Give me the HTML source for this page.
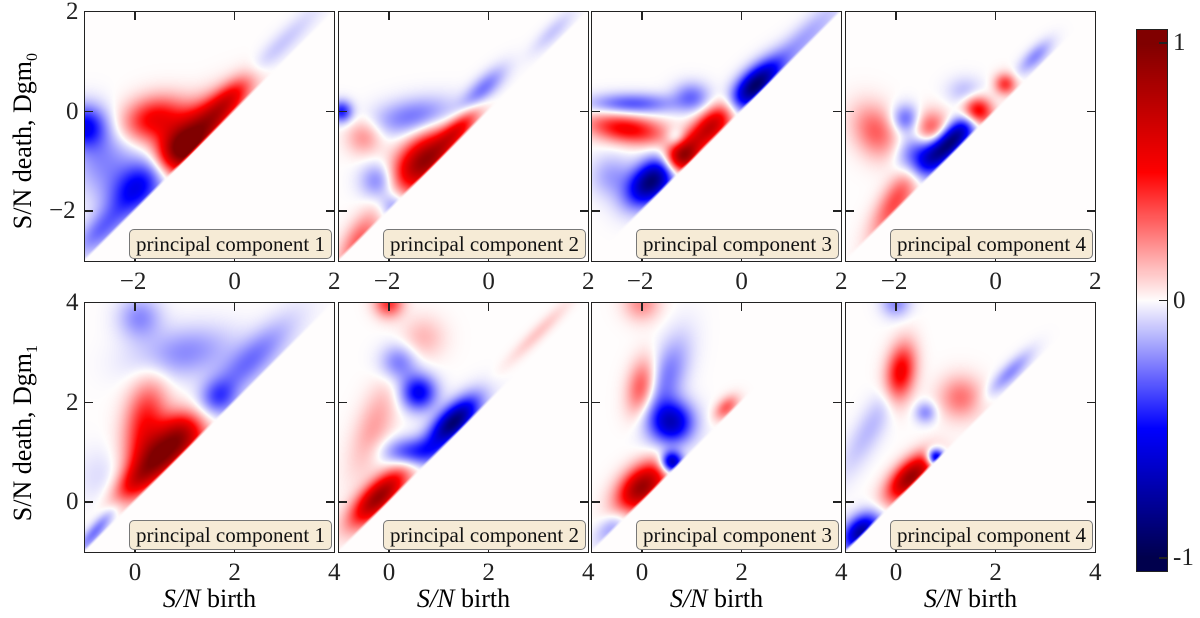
<!DOCTYPE html>
<html><head><meta charset="utf-8">
<style>
body{margin:0;background:#fff;width:1200px;height:618px;overflow:hidden;position:relative;font-family:"Liberation Serif",serif;}
canvas{position:absolute;}
.frame{position:absolute;border:1.5px solid #222;box-sizing:border-box;}
.tick{position:absolute;background:#222;}
.tl{position:absolute;font-size:25px;color:#222;line-height:25px;}
.leg{position:absolute;background:#f6ebd6;border:1.5px solid #777;border-radius:5px;box-sizing:border-box;font-size:21px;line-height:28px;text-align:center;color:#111;white-space:nowrap;}
.ylab{position:absolute;font-size:26px;transform:rotate(-90deg);transform-origin:center;white-space:nowrap;text-align:center;width:260px;line-height:30px;}
.xlab{position:absolute;font-size:26px;width:249px;text-align:center;}
</style></head><body>
<div id="root"></div>
<script>
// Blob data per panel: [birth, death, amplitude, sigma1, sigma2, angleDeg]
const pcTop1=[[-0.8,-0.5,1.0,0.6,0.3,45],[-1.6,-0.15,0.6,0.45,0.3,15],[-0.1,0.25,0.55,0.45,0.18,45],[-1.1,-0.8,0.5,0.3,0.3,45],
 [-3.0,-0.3,-0.55,0.3,0.3,0],[-1.9,-1.5,-0.6,0.5,0.3,45],[-2.6,-1.0,-0.25,0.45,0.5,0],[-2.7,-2.4,-0.3,0.45,0.2,45],[0.9,1.3,-0.12,0.8,0.15,45]];
const pcTop2=[[-1.3,-1.0,1.0,0.5,0.3,45],[-0.6,-0.35,0.55,0.4,0.15,45],[-2.5,-0.5,0.25,0.25,0.25,0],[-2.6,-2.6,0.35,0.45,0.2,60],
 [-1.5,-0.1,-0.3,0.6,0.25,10],[-2.95,0.0,-0.5,0.15,0.15,0],[-0.1,0.45,-0.3,0.4,0.15,45],[-2.2,-1.4,-0.3,0.25,0.25,0],[-1.9,-1.9,-0.25,0.2,0.2,0],[1.3,1.6,-0.12,0.4,0.12,45]];
const pcTop3=[[0.25,0.5,-1.0,0.45,0.2,45],[-0.6,-0.3,0.85,0.45,0.2,45],[-1.2,-0.9,1.0,0.25,0.22,45],[-1.8,-1.4,-1.0,0.4,0.25,45],
 [-2.3,-0.35,0.6,0.55,0.2,-8],[-2.2,0.15,-0.38,0.6,0.15,0],[-1.0,0.3,-0.3,0.25,0.2,0],[1.2,1.4,-0.2,0.8,0.18,45],[-1.3,-0.55,-0.3,0.15,0.15,0],[-2.6,-1.3,-0.2,0.3,0.3,0]];
const pcTop4=[[-0.9,-0.6,-1.0,0.45,0.18,45],[-1.5,-0.9,-0.5,0.3,0.3,0],[-1.8,-0.15,-0.35,0.2,0.2,0],[-0.35,0.0,0.75,0.2,0.2,0],[-1.3,-0.35,0.4,0.25,0.25,0],
 [-2.4,-0.4,0.35,0.4,0.3,-60],[-2.0,-1.8,0.4,0.6,0.2,60],[0.2,0.55,0.45,0.15,0.15,0],[0.8,1.1,-0.25,0.3,0.12,45],[-0.6,0.4,-0.15,0.25,0.2,0]];
const pcBot1=[[0.6,1.0,1.0,0.5,0.3,45],[0.2,1.6,0.5,0.6,0.28,80],[1.0,1.4,0.4,0.3,0.3,0],[0.0,0.4,0.5,0.4,0.2,45],
 [1.0,3.0,-0.25,0.7,0.35,10],[2.3,2.8,-0.3,0.8,0.25,45],[1.7,2.1,-0.3,0.25,0.25,0],[0.1,3.7,-0.25,0.3,0.3,0],[-0.8,-0.6,-0.3,0.4,0.1,50],[-0.6,0.5,-0.08,0.4,0.4,0]];
const pcBot2=[[-0.2,0.1,1.0,0.5,0.2,45],[1.3,1.6,-1.0,0.45,0.2,45],[0.6,2.2,-0.6,0.25,0.25,0],[0.5,1.0,-0.45,0.4,0.2,0],[0.2,2.8,-0.3,0.25,0.25,0],
 [-0.3,1.5,0.2,0.7,0.25,70],[0.0,4.0,0.45,0.2,0.2,0],[3.0,3.4,0.12,0.6,0.1,45],[0.7,3.3,0.15,0.3,0.3,0]];
const pcBot3=[[0.0,0.3,1.0,0.4,0.25,45],[0.6,1.6,-0.75,0.3,0.3,0],[0.6,0.8,-0.85,0.15,0.15,0],[0.5,2.5,-0.3,0.6,0.25,70],[0.0,2.3,0.4,0.4,0.2,80],
 [1.7,1.9,0.35,0.2,0.12,45],[0.0,4.0,0.25,0.25,0.25,0],[-0.6,-0.5,-0.2,0.3,0.15,45]];
const pcBot4=[[-0.7,-0.6,-0.85,0.3,0.2,45],[0.3,0.5,1.0,0.4,0.2,45],[0.8,0.9,-0.85,0.12,0.12,0],[0.1,2.6,0.65,0.4,0.2,80],[1.3,2.1,0.3,0.3,0.3,0],
 [0.6,1.8,-0.25,0.15,0.15,0],[2.3,2.6,-0.25,0.4,0.12,45],[-0.5,1.5,-0.15,0.8,0.2,60],[0.0,4.0,-0.25,0.2,0.2,0]];
const panelBlobs=[pcTop1,pcTop2,pcTop3,pcTop4,pcBot1,pcBot2,pcBot3,pcBot4];
const topRange=[-3,2], botRange=[-1,4];
const topXTicks=[-2,0,2], botXTicks=[0,2,4];
const topYTicks=[-2,0,2], botYTicks=[0,2,4];
const tickText={"-2":"\u22122","0":"0","2":"2","4":"4"};
const cbTicks=[1,0,-1];

const root=document.getElementById('root');
const PX=[85,339,592,846], PY=[12,303], W=249, H=249;

function seismic(v){
  v=Math.max(-1,Math.min(1,v));
  const t=(v+1)/2;
  const st=[[0,0,0,77],[0.25,0,0,255],[0.5,255,253,253],[0.75,255,0,0],[1,128,0,0]];
  for(let i=0;i<4;i++){const a=st[i],b=st[i+1];
    if(t<=b[0]){const f=(t-a[0])/(b[0]-a[0]);return [a[1]+f*(b[1]-a[1]),a[2]+f*(b[2]-a[2]),a[3]+f*(b[3]-a[3])];}}
  return [128,0,0];
}
function el(tag,cls,name,inter){const e=document.createElement(tag);if(cls)e.className=cls;
  
  
  root.appendChild(e);return e;}

for(let p=0;p<8;p++){
  const row=p<4?0:1, col=p%4;
  const x0=PX[col], y0=PY[row];
  const rng=row===0?topRange:botRange;
  const sx=d=>x0+(d-rng[0])/(rng[1]-rng[0])*W;
  const sy=d=>y0+H-(d-rng[0])/(rng[1]-rng[0])*H;
  const cv=el('canvas','','heatmap-'+(row?'dgm1':'dgm0')+'-pc'+(col+1),false);
  cv.width=W;cv.height=H;cv.style.left=x0+'px';cv.style.top=y0+'px';
  const ctx=cv.getContext('2d');const img=ctx.createImageData(W,H);
  const blobs=panelBlobs[p];
  for(let j=0;j<H;j++){for(let i=0;i<W;i++){
    const bx=rng[0]+(i+0.5)/W*(rng[1]-rng[0]);
    const dy=rng[1]-(j+0.5)/H*(rng[1]-rng[0]);
    let v=0;
    for(const b of blobs){const a=b[5]*Math.PI/180,dx=bx-b[0],dd=dy-b[1];
      const u=dx*Math.cos(a)+dd*Math.sin(a),w=-dx*Math.sin(a)+dd*Math.cos(a);
      v+=b[2]*Math.exp(-0.5*(u*u/(b[3]*b[3])+w*w/(b[4]*b[4])));}
    v*=0.9;
    const m=dy-bx; v*= m<=0?0:(m<0.08?m/0.08:1);
    const c=seismic(v);const k=(j*W+i)*4;
    img.data[k]=c[0];img.data[k+1]=c[1];img.data[k+2]=c[2];img.data[k+3]=255;}}
  ctx.putImageData(img,0,0);
  const fr=el('div','frame','panel-frame',false);
  fr.style.cssText=`left:${x0-1}px;top:${y0-1}px;width:${W+2}px;height:${H+2}px`;
  const xt=row?botXTicks:topXTicks, yt=row?botYTicks:topYTicks;
  for(const t of xt){const X=sx(t);
    if(t<rng[1]){for(const yy of [y0,y0+H-8]){const tk=el('div','tick','x-tick',false);tk.style.cssText=`left:${X-0.75}px;top:${yy}px;width:1.5px;height:8px`;}}
    const lb=el('div','tl','x-tick-label',false);lb.textContent=tickText[t];
    lb.style.left=(X-(t<0?15:6))+'px';lb.style.top=(y0+H+8)+'px';}
  for(const t of yt){const Y=sy(t);
    if(t<rng[1]){for(const xx of [x0,x0+W-8]){const tk=el('div','tick','y-tick',false);tk.style.cssText=`left:${xx}px;top:${Y-0.75}px;width:8px;height:1.5px`;}}
    if(col===0){const lb=el('div','tl','y-tick-label',false);lb.textContent=tickText[t];
      lb.style.left=(x0-4-(t<0?32:15))+'px';lb.style.top=(Y-13)+'px';}}
  const lg=el('div','leg','legend-label',false);
  lg.textContent='principal component '+(col+1);
  lg.style.cssText=`left:${x0+44}px;top:${y0+H-32}px;width:${W-46}px;height:30px`;
  if(row===1){const xl=el('div','xlab','x-axis-title',false);
    xl.innerHTML='<i>S/N</i> birth';xl.style.left=x0+'px';xl.style.top='584px';}
}
const yl0=el('div','ylab','y-axis-title-dgm0',false);yl0.innerHTML='S/N death, Dgm<sub style="font-size:16px">0</sub>';
yl0.style.left=(28-130)+'px';yl0.style.top=(136-15)+'px';
const yl1=el('div','ylab','y-axis-title-dgm1',false);yl1.innerHTML='S/N death, Dgm<sub style="font-size:16px">1</sub>';
yl1.style.left=(28-130)+'px';yl1.style.top=(428-15)+'px';

// colorbar
const cb=el('canvas','','colorbar',false);
const CBX=1137,CBY=30,CBW=30,CBH=541;cb.width=CBW;cb.height=CBH;cb.style.left=CBX+'px';cb.style.top=CBY+'px';
const cctx=cb.getContext('2d');
const cbVal=j=>1.05-(j+0.5)/CBH*2.1;
for(let j=0;j<CBH;j++){const c=seismic(cbVal(j));cctx.fillStyle=`rgb(${c[0]|0},${c[1]|0},${c[2]|0})`;cctx.fillRect(0,j,CBW,1);}
const cbf=el('div','frame','colorbar-frame',false);cbf.style.cssText=`left:${CBX-1}px;top:${CBY-1}px;width:${CBW+2}px;height:${CBH+2}px`;
for(const t of cbTicks){const Y=CBY+(1.05-t)/2.1*CBH;
  const tk=el('div','tick','colorbar-tick',false);tk.style.cssText=`left:${CBX+CBW-8}px;top:${Y-0.75}px;width:8px;height:1.5px`;
  const lb=el('div','tl','colorbar-tick-label',false);lb.textContent=String(t);lb.style.left=(CBX+CBW+6)+'px';lb.style.top=(Y-13)+'px';}
</script>
</body></html>
